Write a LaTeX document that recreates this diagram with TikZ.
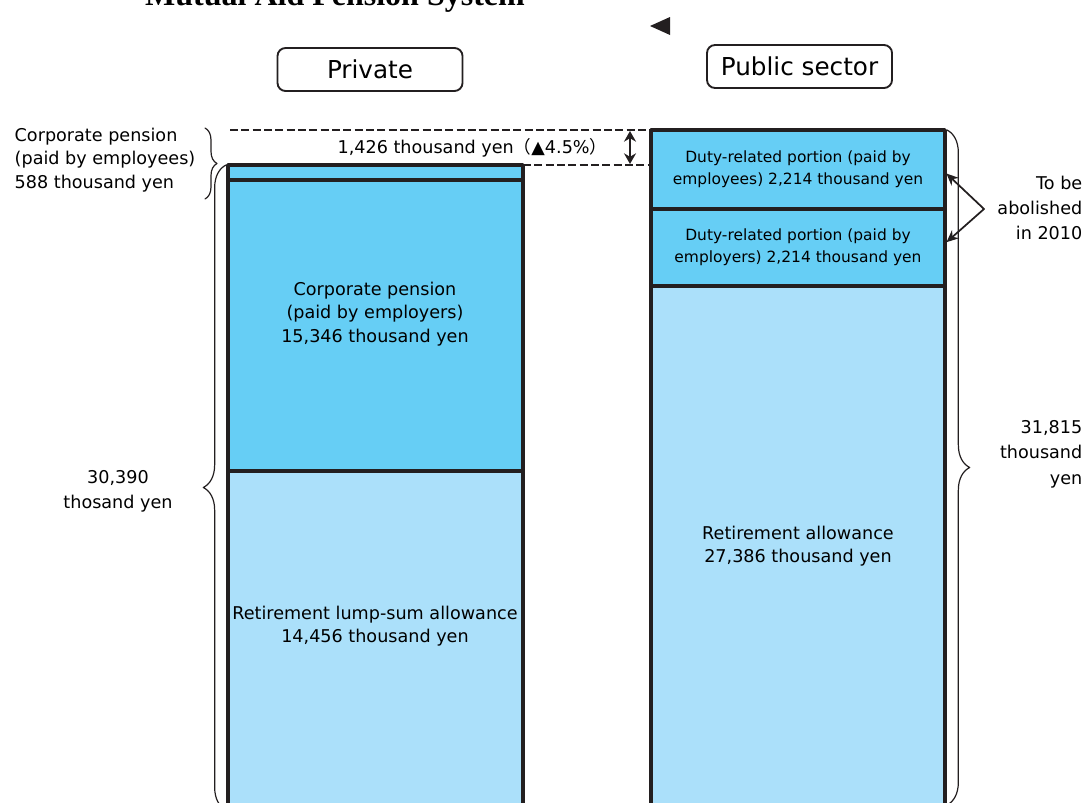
\documentclass[tikz,border=0pt]{standalone}
\usepackage{fontspec}
\setmainfont{DejaVu Sans}
\newfontfamily\titlefont{Liberation Serif}
\newfontfamily\cjk{Noto Sans CJK JP}
\usetikzlibrary{arrows.meta,decorations.pathreplacing}
\definecolor{midblue}{RGB}{102,206,245}
\definecolor{paleblue}{RGB}{171,224,250}
\definecolor{ink}{RGB}{35,31,32}
\begin{document}
\begin{tikzpicture}[x=0.75pt,y=-0.75pt,>=Stealth,line join=round,line cap=round,
	font=\fontsize{13.2}{17.5}\selectfont,
	bar/.style={draw=ink,line width=2.6pt,inner sep=0pt,outer sep=0pt,anchor=north west,align=center},
	tag/.style={draw=ink,line width=1.4pt,rounded corners=6pt,minimum width=138.75pt,minimum height=32.25pt,font=\fontsize{18.5}{20}\selectfont},
	small/.style={font=\fontsize{11.6}{16.5}\selectfont},
	brc/.style={draw=ink,line width=0.9pt,decorate,decoration={brace,amplitude=#1}},
	dashline/.style={draw=ink,line width=1.9pt,line cap=butt,dash pattern=on 6pt off 2.5pt}]
	\useasboundingbox (0,0) rectangle (1089,803);
	\node[anchor=base,font=\titlefont\bfseries\fontsize{24}{24}\selectfont] (title) at (335,5) {Mutual Aid Pension System};
	\fill[ink] (650,26)--(670,17)--(670,35)--cycle;
	\node[tag] (private) at (370,69.5) {Private};
	\node[tag] (public) at (799.5,66.5) {Public sector};
	\node[bar,fill=midblue,minimum width=221.25pt,minimum height=11.25pt] (empl) at (228,165) {};
	\node[bar,fill=midblue,minimum width=221.25pt,minimum height=218.25pt] (emplr) at (228,180) {};
	\node[bar,fill=paleblue,minimum width=221.25pt,minimum height=254.25pt] (lump) at (228,471) {};
	\node[bar,fill=midblue,minimum width=220.5pt,minimum height=59.25pt,small] (dutyEe) at (651,130) {Duty-related portion (paid by\\employees) 2,214 thousand yen};
	\node[bar,fill=midblue,minimum width=220.5pt,minimum height=57.75pt,small] (dutyEr) at (651,209) {Duty-related portion (paid by\\employers) 2,214 thousand yen};
	\node[bar,fill=paleblue,minimum width=220.5pt,minimum height=393pt] (allow) at (651,286) {};
	\node[align=center] (emplrtxt) at (375,314) {Corporate pension\\(paid by employers)\\15,346 thousand yen};
	\node[align=center] (lumptxt) at (375,626) {Retirement lump-sum allowance\\14,456 thousand yen};
	\node[align=center] (allowtxt) at (798,546) {Retirement allowance\\27,386 thousand yen};
	\draw[dashline] (230,130) -- (dutyEe.north west);
	\draw[dashline] (empl.north east) -- (empl.north east -| dutyEe.west);
	\coordinate (gapT) at (630,131);
	\coordinate (gapB) at (630,164);
	\draw[ink,line width=1.3pt,{Stealth[length=8pt,width=9pt]}-{Stealth[length=8pt,width=9pt]}] (gapT) -- (gapB);
	\node[anchor=east] (gaptxt) at (612,148) {1,426 thousand yen{\cjk （}▲4.5\%{\cjk ）}};
	\node[anchor=west,align=left] (empltxt) at (10,160) {Corporate pension\\(paid by employees)\\588 thousand yen};
	\draw[brc=9pt] (205,128) -- (205,199);
	\draw[brc=17pt] (226,810) -- (226,165);
	\node[align=center,font=\fontsize{13.2}{18.5}\selectfont] (privsum) at (118,491) {30,390\\thosand yen};
	\draw[brc=17pt] (947,130) -- (947,805);
	\node[anchor=east,align=right,font=\fontsize{13.2}{19}\selectfont] (pubsum) at (1087,454) {31,815\\thousand\\yen};
	\node[anchor=east,align=right,font=\fontsize{13.2}{18.5}\selectfont] (abol) at (1087,208) {To be\\abolished\\in 2010};
	\coordinate (fork) at (984,209);
	\draw[ink,line width=1.3pt,shorten >=1.5pt,-{Stealth[length=9pt,width=8pt]}] (fork) -- ([yshift=-2pt]dutyEe.east);
	\draw[ink,line width=1.3pt,shorten >=1.5pt,-{Stealth[length=9pt,width=8pt]}] (fork) -- ([yshift=3pt]dutyEr.east);
\end{tikzpicture}
\end{document}
